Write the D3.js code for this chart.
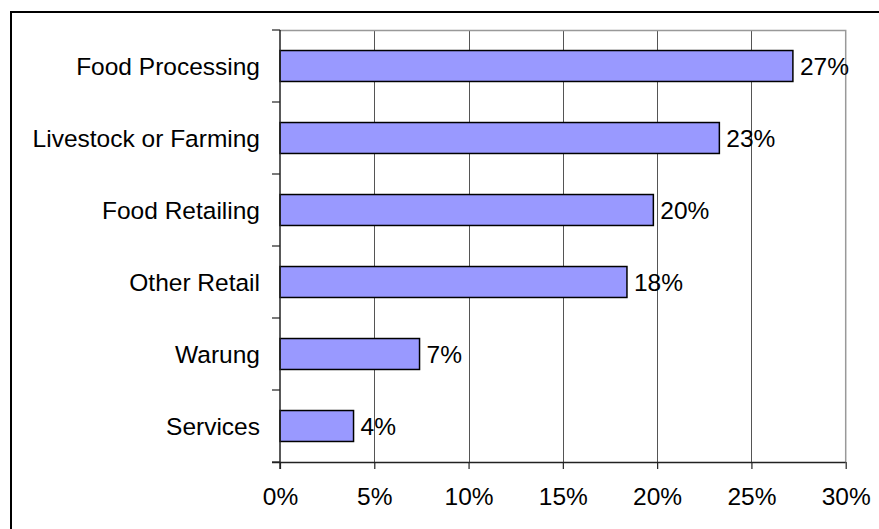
<!DOCTYPE html>
<html>
<head>
<meta charset="utf-8">
<script src="https://cdn.jsdelivr.net/npm/d3@7"></script>
<style>
  html, body { margin: 0; padding: 0; background: #fff; }
  svg { display: block; font-family: "Liberation Sans", Arial, sans-serif; }
</style>
</head>
<body>
<svg id="chart" width="879" height="529"></svg>
<script>
// Share of businesses by sector (fractions)
const categories = ["Food Processing", "Livestock or Farming", "Food Retailing", "Other Retail", "Warung", "Services"];
const values = [0.272, 0.233, 0.198, 0.184, 0.074, 0.039];
const xTicks = [0, 0.05, 0.10, 0.15, 0.20, 0.25, 0.30];

const svg = d3.select("#chart");
const plot = { left: 280, right: 845.7, top: 30, bottom: 462 };
const fontSize = 24.5;

// Outer frame (only top and left edges fall inside the canvas)
svg.append("rect")
  .attr("x", 11).attr("y", 12)
  .attr("width", 900).attr("height", 600)
  .attr("fill", "none").attr("stroke", "#000").attr("stroke-width", 2);

const x = d3.scaleLinear().domain([0, 0.30]).range([plot.left, plot.right]);
const y = d3.scaleBand().domain(categories).range([plot.top, plot.bottom])
  .paddingInner(0.57).paddingOuter(0.285);

// Vertical gridlines
svg.append("g")
  .selectAll("line")
  .data(xTicks.filter(t => t > 0 && t < 0.30))
  .join("line")
  .attr("x1", d => Math.round(x(d)) + 0.5).attr("x2", d => Math.round(x(d)) + 0.5)
  .attr("y1", plot.top).attr("y2", plot.bottom)
  .attr("stroke", "#555").attr("stroke-width", 1);

// Plot area border (top and right)
svg.append("path")
  .attr("d", `M${plot.left},${plot.top + 0.5}H${plot.right}V${plot.bottom}`)
  .attr("fill", "none").attr("stroke", "#999").attr("stroke-width", 1.5);

// Bars
svg.append("g")
  .selectAll("rect")
  .data(categories.map((c, i) => ({ c, v: values[i] })))
  .join("rect")
  .attr("x", x(0))
  .attr("y", d => y(d.c))
  .attr("width", d => x(d.v) - x(0))
  .attr("height", y.bandwidth())
  .attr("fill", "#9999FF")
  .attr("stroke", "#000").attr("stroke-width", 1.5);

// Value labels
const fmt = d3.format(".0%");
svg.append("g")
  .selectAll("text")
  .data(categories.map((c, i) => ({ c, v: values[i] })))
  .join("text")
  .attr("x", d => x(d.v) + 7)
  .attr("y", d => y(d.c) + y.bandwidth() / 2)
  .attr("dy", "0.35em")
  .attr("font-size", fontSize)
  .attr("fill", "#000")
  .text(d => fmt(d.v));

// X axis
const xAxis = d3.axisBottom(x).tickValues(xTicks).tickFormat(d3.format(".0%"))
  .tickSize(7).tickPadding(19);
const gx = svg.append("g").attr("transform", `translate(0,${plot.bottom})`).call(xAxis);
gx.select(".domain").attr("d", `M${plot.left - 8},0.5H${plot.right}`).attr("stroke", "#222").attr("stroke-width", 1.5);
gx.selectAll(".tick line").attr("stroke", "#222").attr("stroke-width", 1.2);
gx.selectAll(".tick text").attr("font-size", fontSize).attr("fill", "#000")
  .attr("font-family", "Liberation Sans, Arial, sans-serif");

// Y axis: line with ticks at category boundaries, labels at centres
const gy = svg.append("g");
gy.append("line")
  .attr("x1", plot.left).attr("x2", plot.left)
  .attr("y1", plot.top).attr("y2", plot.bottom + 7)
  .attr("stroke", "#222").attr("stroke-width", 1.5);
const step = y.step();
gy.selectAll("line.tick")
  .data(d3.range(categories.length + 1))
  .join("line").attr("class", "tick")
  .attr("x1", plot.left - 8).attr("x2", plot.left)
  .attr("y1", i => plot.top + i * step).attr("y2", i => plot.top + i * step)
  .attr("stroke", "#222").attr("stroke-width", 1.2);
gy.selectAll("text")
  .data(categories)
  .join("text")
  .attr("x", plot.left - 20)
  .attr("y", d => y(d) + y.bandwidth() / 2)
  .attr("dy", "0.35em")
  .attr("text-anchor", "end")
  .attr("font-size", fontSize)
  .attr("fill", "#000")
  .text(d => d);
</script>
</body>
</html>
